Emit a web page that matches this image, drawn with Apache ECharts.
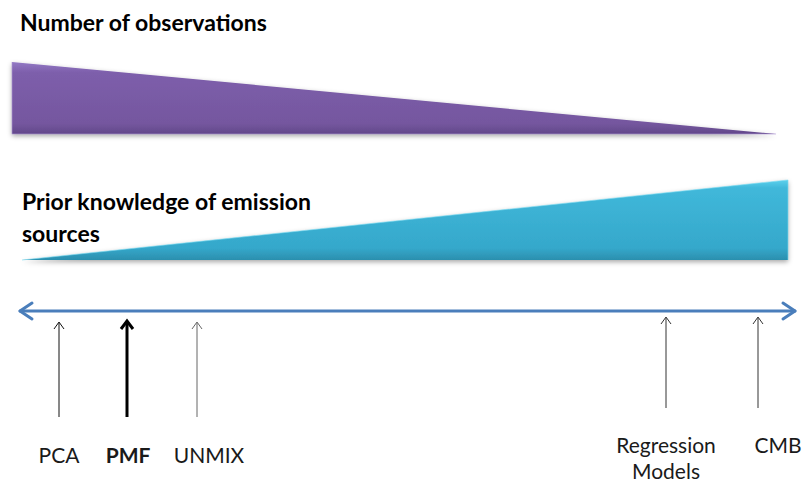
<!DOCTYPE html>
<html>
<head>
<meta charset="utf-8">
<script src="https://cdn.jsdelivr.net/npm/echarts@6/dist/echarts.min.js"></script>
<style>
html,body{margin:0;padding:0;background:#fff;}
#chart{width:803px;height:486px;}
</style>
</head>
<body>
<div id="chart"></div>
<script>
// Diagram coordinates (x: position along the continuum, y: vertical position, both in canvas units)
const observationsShape = [[12, 62], [12, 134], [776, 134]];
const knowledgeShape = [[22, 260], [788, 180], [788, 260]];
const axisLine = [[20, 311], [795, 311]];

const methods = ['PCA', 'PMF', 'UNMIX', 'Regression\nModels', 'CMB'];
const methodPos = [59, 127, 197, 666, 758];
const arrowTop = [322, 321, 322, 317, 317];
const arrowBottom = [417, 417, 417, 408, 408];
const labelX = [59, 128, 209, 666, 778];
const labelY = [454, 454, 454, 457, 444];
const arrowWidth = [1, 3, 1, 1, 1];
const arrowColor = ['#111', '#000', '#666', '#333', '#333'];
const labelBold = [false, true, false, false, false];

const titles = ['Number of observations', 'Prior knowledge of emission\nsources'];
const titlePos = [[20, 22], [22, 217]];

const FONT = 'Lato, "Open Sans", sans-serif';

const chart = echarts.init(document.getElementById('chart'), null, {renderer: 'svg'});

function polyItem(shape, fillStops, edgeColor) {
  return function (params, api) {
    const pts = shape.map(p => api.coord(p));
    return {
      type: 'group',
      children: [
        {
          type: 'polygon',
          shape: {points: pts},
          style: {
            fill: new echarts.graphic.LinearGradient(0, 0, 0, 1, fillStops),
            shadowBlur: 5,
            shadowColor: 'rgba(0,0,0,0.35)',
            shadowOffsetY: 2
          }
        },
        {
          type: 'polyline',
          shape: {points: pts.slice(0)},
          style: {stroke: edgeColor, lineWidth: 1, fill: null, opacity: 0.6}
        }
      ]
    };
  };
}

const option = {
  animation: false,
  backgroundColor: '#ffffff',
  grid: {left: 0, right: 0, top: 0, bottom: 0},
  xAxis: {type: 'value', min: 0, max: 803, show: false},
  yAxis: {type: 'value', min: 0, max: 486, inverse: true, show: false},
  series: [
    {
      type: 'custom',
      data: [0],
      renderItem: polyItem(observationsShape, [
        {offset: 0, color: '#9279c4'},
        {offset: 0.15, color: '#7d5eab'},
        {offset: 0.85, color: '#75579f'},
        {offset: 1, color: '#62488a'}
      ], '#b09ad8')
    },
    {
      type: 'custom',
      data: [0],
      renderItem: polyItem(knowledgeShape, [
        {offset: 0, color: '#5cd0ec'},
        {offset: 0.1, color: '#40b8da'},
        {offset: 0.85, color: '#35a8cb'},
        {offset: 1, color: '#2b8fae'}
      ], '#7fdcf2')
    },
    {
      type: 'custom',
      data: [0],
      renderItem: function (params, api) {
        const a = api.coord(axisLine[0]);
        const b = api.coord(axisLine[1]);
        const h = 12, w = 8;
        const st = {stroke: '#4a7ebb', lineWidth: 3, fill: null, lineCap: 'round', lineJoin: 'round'};
        return {
          type: 'group',
          children: [
            {type: 'line', shape: {x1: a[0], y1: a[1], x2: b[0], y2: b[1]}, style: st},
            {type: 'polyline', shape: {points: [[a[0] + h, a[1] - w], a, [a[0] + h, a[1] + w]]}, style: st},
            {type: 'polyline', shape: {points: [[b[0] - h, b[1] - w], b, [b[0] - h, b[1] + w]]}, style: st}
          ]
        };
      }
    },
    {
      type: 'custom',
      data: methods.map((m, i) => [methodPos[i], arrowTop[i], arrowBottom[i], labelX[i], labelY[i], i]),
      renderItem: function (params, api) {
        const i = api.value(5);
        const top = api.coord([api.value(0), api.value(1)]);
        const bot = api.coord([api.value(0), api.value(2)]);
        const lab = api.coord([api.value(3), api.value(4)]);
        const lw = arrowWidth[i];
        const hw = lw > 1 ? 6 : 5, hh = lw > 1 ? 8 : 7;
        const st = {stroke: arrowColor[i], lineWidth: lw, fill: null};
        return {
          type: 'group',
          children: [
            {type: 'line', shape: {x1: top[0], y1: top[1] + 1, x2: bot[0], y2: bot[1]}, style: st},
            {type: 'polyline', shape: {points: [[top[0] - hw, top[1] + hh], top, [top[0] + hw, top[1] + hh]]}, style: st},
            {
              type: 'text',
              x: lab[0], y: lab[1],
              style: {
                text: methods[i],
                fill: '#1a1a1a',
                font: (labelBold[i] ? 'bold ' : '') + '21px ' + FONT,
                align: 'center',
                verticalAlign: 'middle',
                lineHeight: 26
              }
            }
          ]
        };
      }
    },
    {
      type: 'custom',
      data: titles.map((t, i) => [titlePos[i][0], titlePos[i][1], i]),
      renderItem: function (params, api) {
        const i = api.value(2);
        const p = api.coord([api.value(0), api.value(1)]);
        return {
          type: 'text',
          x: p[0], y: p[1],
          style: {
            text: titles[i],
            fill: '#000',
            font: 'bold 23px ' + FONT,
            align: 'left',
            verticalAlign: 'middle',
            lineHeight: 32
          }
        };
      }
    }
  ]
};
chart.setOption(option);
</script>
</body>
</html>
